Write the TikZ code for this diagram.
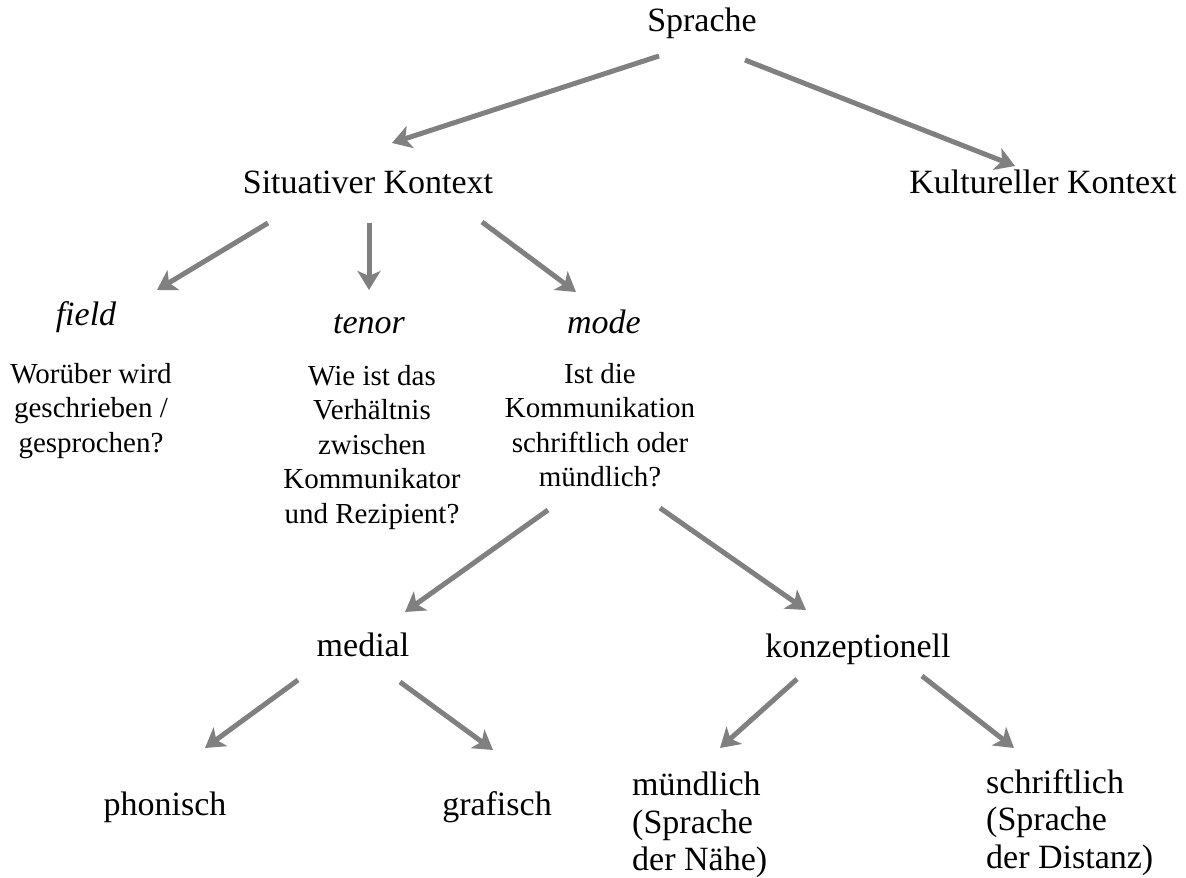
\documentclass[tikz,border=0pt]{standalone}
\usepackage{fontspec}
\setmainfont{Liberation Serif}
\usetikzlibrary{arrows.meta}

\tikzset{
  big/.style={font=\fontsize{34}{37.5}\selectfont, inner sep=0pt},
  bigit/.style={font=\fontsize{34}{37.5}\selectfont\itshape, inner sep=0pt, anchor=base},
  question/.style={font=\fontsize{29}{34.5}\selectfont, inner sep=0pt, align=center, anchor=north},
  leaf/.style={font=\fontsize{34}{37.5}\selectfont, inner sep=0pt, align=left, anchor=north west},
  arr/.style={draw=gray, line width=5pt,
    -{Stealth[length=19pt, width=23pt, inset=5pt]}}
}

\begin{document}
\begin{tikzpicture}[x=1pt, y=-1pt]
  \useasboundingbox (0,0) rectangle (1186,878);

  % level 0 and 1
  \node[big, anchor=base] (sprache) at (702,31) {Sprache};
  \node[big, anchor=base] (sit) at (368,193) {Situativer Kontext};
  \node[big, anchor=base] (kult) at (1043,193) {Kultureller Kontext};

  % field / tenor / mode
  \node[bigit] (field) at (86,325) {field};
  \node[bigit] (tenor) at (369,333) {tenor};
  \node[bigit] (mode) at (604,333) {mode};

  \node[question] (fieldq) at (91,363) {Worüber wird\\geschrieben /\\gesprochen?};
  \node[question] (tenorq) at (372,365) {Wie ist das\\Verhältnis\\zwischen\\Kommunikator\\und Rezipient?};
  \node[question] (modeq) at (600,363) {Ist die\\Kommunikation\\schriftlich oder\\mündlich?};

  % medial / konzeptionell
  \node[big, anchor=base] (medial) at (363,656) {medial};
  \node[big, anchor=base] (konz) at (858,657) {konzeptionell};

  % leaves
  \node[big, anchor=base] (phon) at (165,815) {phonisch};
  \node[big, anchor=base] (graf) at (497,815) {grafisch};
  \node[leaf] (muend) at (632,772) {mündlich\\(Sprache\\der Nähe)};
  \node[leaf] (schr) at (986,769) {schriftlich\\(Sprache\\der Distanz)};

  % connectors
  \draw[arr] ([shift={(-43,25)}]sprache.base) -- ([shift={(24,-50)}]sit.base);
  \draw[arr] ([shift={(43,29)}]sprache.base) -- ([shift={(-28,-27)}]kult.base);

  \draw[arr] ([shift={(-100,30)}]sit.base) -- ([shift={(71,-35)}]field.base);
  \draw[arr] ([shift={(1,30)}]sit.base) -- ([shift={(0,-43)}]tenor.base);
  \draw[arr] ([shift={(114,29)}]sit.base) -- ([shift={(-28,-41)}]mode.base);

  \draw[arr] ([shift={(-52,147)}]modeq.north) -- ([shift={(42,-44)}]medial.base);
  \draw[arr] ([shift={(60,145)}]modeq.north) -- ([shift={(-52,-47)}]konz.base);

  \draw[arr] ([shift={(-65,24)}]medial.base) -- ([shift={(40,-67)}]phon.base);
  \draw[arr] ([shift={(37,26)}]medial.base) -- ([shift={(-4,-65)}]graf.base);

  \draw[arr] ([shift={(-61,22)}]konz.base) -- ([shift={(88,-24)}]muend.north west);
  \draw[arr] ([shift={(64,19)}]konz.base) -- ([shift={(28,-21)}]schr.north west);
\end{tikzpicture}
\end{document}
